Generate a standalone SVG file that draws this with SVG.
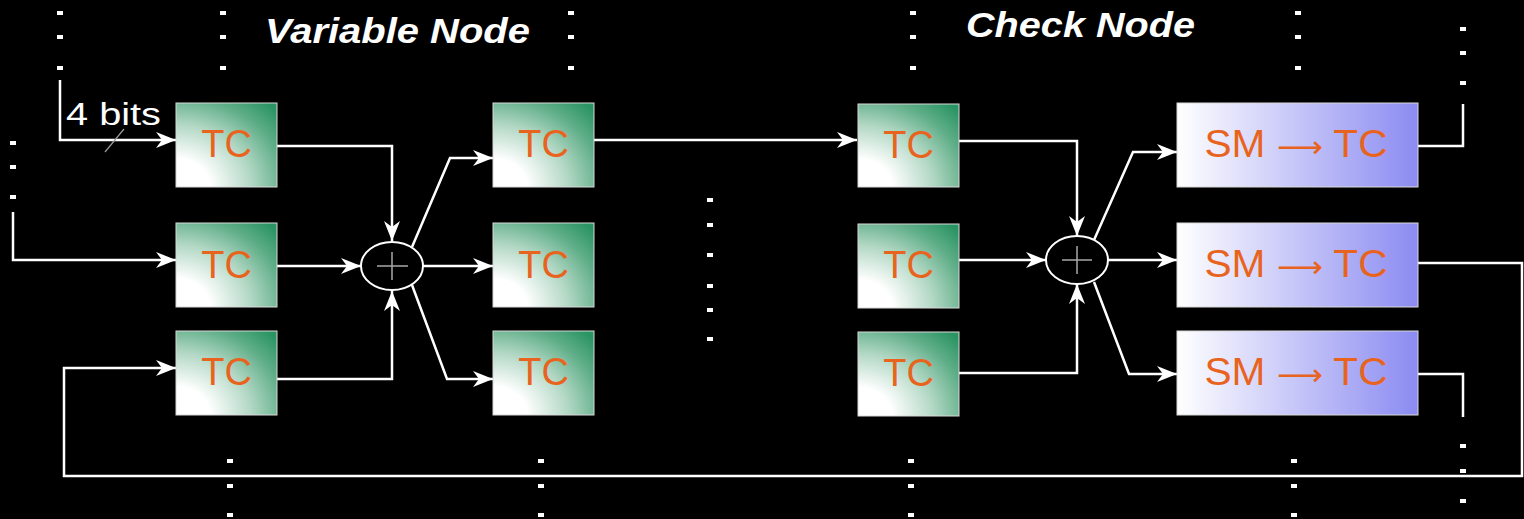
<svg xmlns="http://www.w3.org/2000/svg" width="1524" height="519" viewBox="0 0 1524 519">
<defs>
<radialGradient id="gTC" cx="0" cy="1" r="1.35" fx="0" fy="1">
<stop offset="0" stop-color="#ffffff"/>
<stop offset="0.25" stop-color="#ffffff"/>
<stop offset="0.55" stop-color="#b3d8c5"/>
<stop offset="0.8" stop-color="#5fae88"/>
<stop offset="1" stop-color="#2a9463"/>
</radialGradient>
<linearGradient id="gSM" x1="0" y1="0" x2="1" y2="0">
<stop offset="0" stop-color="#ffffff"/>
<stop offset="1" stop-color="#8b8bf2"/>
</linearGradient>
<marker id="arr" markerUnits="userSpaceOnUse" markerWidth="22" markerHeight="18" refX="20" refY="9" orient="auto">
<path d="M0,1 L20,9 L0,17 L6,9 z" fill="#ffffff"/>
</marker>
<style>
.tc{fill:url(#gTC);stroke:#d8d8d8;stroke-width:1}
.sm{fill:url(#gSM);stroke:#d8d8d8;stroke-width:1}
.lbl{font-family:"Liberation Sans",Arial,sans-serif;font-size:38px;fill:#e8641e;text-anchor:middle}
.arw{font-family:"DejaVu Sans","Liberation Sans",sans-serif;font-size:30px}
.ttl{font-family:"Liberation Sans",Arial,sans-serif;font-size:35px;font-weight:bold;font-style:italic;fill:#ffffff}
.ln{fill:none;stroke:#ffffff;stroke-width:2.5}
.add{fill:#000000;stroke:#ffffff;stroke-width:2}
.plus{stroke:#a8a8a8;stroke-width:1.5}
.dot{fill:#ffffff}
</style>
</defs>
<rect x="0" y="0" width="1524" height="519" fill="#000000"/>

<g id="titles">
<text class="ttl" x="265" y="43" textLength="265" lengthAdjust="spacingAndGlyphs">Variable Node</text>
<text class="ttl" x="966" y="37" textLength="229" lengthAdjust="spacingAndGlyphs">Check Node</text>
</g>

<g id="dots">
<rect class="dot" x="57" y="11" width="6" height="4"/><rect class="dot" x="57" y="35" width="6" height="4"/><rect class="dot" x="57" y="66" width="6" height="4"/>
<rect class="dot" x="220" y="11" width="6" height="4"/><rect class="dot" x="220" y="35" width="6" height="4"/><rect class="dot" x="220" y="66" width="6" height="4"/>
<rect class="dot" x="568" y="11" width="6" height="4"/><rect class="dot" x="568" y="35" width="6" height="4"/><rect class="dot" x="568" y="66" width="6" height="4"/>
<rect class="dot" x="910" y="11" width="6" height="4"/><rect class="dot" x="910" y="35" width="6" height="4"/><rect class="dot" x="910" y="66" width="6" height="4"/>
<rect class="dot" x="1295" y="11" width="6" height="4"/><rect class="dot" x="1295" y="35" width="6" height="4"/><rect class="dot" x="1295" y="66" width="6" height="4"/>
<rect class="dot" x="1460" y="27" width="6" height="4"/><rect class="dot" x="1460" y="51" width="6" height="4"/><rect class="dot" x="1460" y="81" width="6" height="4"/>
<rect class="dot" x="10" y="141" width="6" height="4"/><rect class="dot" x="10" y="165" width="6" height="4"/><rect class="dot" x="10" y="195" width="6" height="4"/>
<rect class="dot" x="707" y="198" width="6" height="4"/><rect class="dot" x="707" y="223" width="6" height="4"/><rect class="dot" x="707" y="253" width="6" height="4"/>
<rect class="dot" x="707" y="284" width="6" height="4"/><rect class="dot" x="707" y="308" width="6" height="4"/><rect class="dot" x="707" y="337" width="6" height="4"/>
<rect class="dot" x="227" y="459" width="6" height="4"/><rect class="dot" x="227" y="484" width="6" height="4"/><rect class="dot" x="227" y="513" width="6" height="4"/>
<rect class="dot" x="538" y="459" width="6" height="4"/><rect class="dot" x="538" y="484" width="6" height="4"/><rect class="dot" x="538" y="513" width="6" height="4"/>
<rect class="dot" x="908" y="459" width="6" height="4"/><rect class="dot" x="908" y="484" width="6" height="4"/><rect class="dot" x="908" y="513" width="6" height="4"/>
<rect class="dot" x="1291" y="459" width="6" height="4"/><rect class="dot" x="1291" y="484" width="6" height="4"/><rect class="dot" x="1291" y="513" width="6" height="4"/>
<rect class="dot" x="1460" y="444" width="6" height="4"/><rect class="dot" x="1460" y="469" width="6" height="4"/><rect class="dot" x="1460" y="499" width="6" height="4"/>
</g>

<g id="connectors">
<path class="ln" d="M60,80 V140 H176" marker-end="url(#arr)"/>
<path class="ln" d="M13,212 V260 H176" marker-end="url(#arr)"/>
<path class="ln" d="M1418,263 H1522 V476 H64 V368 H176" marker-end="url(#arr)"/>
<path class="ln" d="M277,146 H392 V241" marker-end="url(#arr)"/>
<path class="ln" d="M277,266 H361" marker-end="url(#arr)"/>
<path class="ln" d="M277,379 H392 V291" marker-end="url(#arr)"/>
<path class="ln" d="M412,247 L450,158 H493" marker-end="url(#arr)"/>
<path class="ln" d="M423,266 H493" marker-end="url(#arr)"/>
<path class="ln" d="M412,285 L447,379 H493" marker-end="url(#arr)"/>
<path class="ln" d="M594,140 H857" marker-end="url(#arr)"/>
<path class="ln" d="M959,141 H1077 V236" marker-end="url(#arr)"/>
<path class="ln" d="M959,260 H1046" marker-end="url(#arr)"/>
<path class="ln" d="M959,373 H1077 V284" marker-end="url(#arr)"/>
<path class="ln" d="M1094,240 L1133,152 H1177" marker-end="url(#arr)"/>
<path class="ln" d="M1108,260 H1177" marker-end="url(#arr)"/>
<path class="ln" d="M1094,282 L1129,374 H1177" marker-end="url(#arr)"/>
<path class="ln" d="M1418,146 H1463 V104"/>
<path class="ln" d="M1418,374 H1463 V417"/>
<line x1="105" y1="152" x2="124" y2="129" stroke="#9a9a9a" stroke-width="1.2"/>
<text x="66" y="125" font-family="'Liberation Sans',Arial,sans-serif" font-size="31" fill="#ffffff" textLength="95" lengthAdjust="spacingAndGlyphs">4 bits</text>
</g>

<g id="vn-in1"><rect class="tc" x="176" y="103" width="101" height="84"/><text class="lbl" x="226.5" y="157">TC</text></g>
<g id="vn-in2"><rect class="tc" x="176" y="223" width="101" height="84"/><text class="lbl" x="226.5" y="278">TC</text></g>
<g id="vn-in3"><rect class="tc" x="176" y="331" width="101" height="84"/><text class="lbl" x="226.5" y="385">TC</text></g>

<g id="vn-adder"><ellipse class="add" cx="392" cy="266" rx="31" ry="24"/><line class="plus" x1="377" y1="266" x2="408" y2="266"/><line class="plus" x1="392" y1="252" x2="392" y2="280"/></g>

<g id="vn-out1"><rect class="tc" x="493" y="103" width="101" height="84"/><text class="lbl" x="543.5" y="157">TC</text></g>
<g id="vn-out2"><rect class="tc" x="493" y="223" width="101" height="84"/><text class="lbl" x="543.5" y="278">TC</text></g>
<g id="vn-out3"><rect class="tc" x="493" y="331" width="101" height="84"/><text class="lbl" x="543.5" y="385">TC</text></g>

<g id="cn-in1"><rect class="tc" x="858" y="104" width="101" height="83"/><text class="lbl" x="908.5" y="158">TC</text></g>
<g id="cn-in2"><rect class="tc" x="858" y="224" width="101" height="84"/><text class="lbl" x="908.5" y="278">TC</text></g>
<g id="cn-in3"><rect class="tc" x="858" y="332" width="101" height="84"/><text class="lbl" x="908.5" y="386">TC</text></g>

<g id="cn-adder"><ellipse class="add" cx="1077" cy="260" rx="31" ry="24"/><line class="plus" x1="1062" y1="260" x2="1092" y2="260"/><line class="plus" x1="1077" y1="246" x2="1077" y2="274"/></g>

<g id="cn-out1"><rect class="sm" x="1177" y="103" width="241" height="84"/><text class="lbl" x="1296" y="157" textLength="183" lengthAdjust="spacingAndGlyphs">SM <tspan class="arw">⟶</tspan> TC</text></g>
<g id="cn-out2"><rect class="sm" x="1177" y="223" width="241" height="84"/><text class="lbl" x="1296" y="277" textLength="183" lengthAdjust="spacingAndGlyphs">SM <tspan class="arw">⟶</tspan> TC</text></g>
<g id="cn-out3"><rect class="sm" x="1177" y="331" width="241" height="84"/><text class="lbl" x="1296" y="385" textLength="183" lengthAdjust="spacingAndGlyphs">SM <tspan class="arw">⟶</tspan> TC</text></g>
</svg>
